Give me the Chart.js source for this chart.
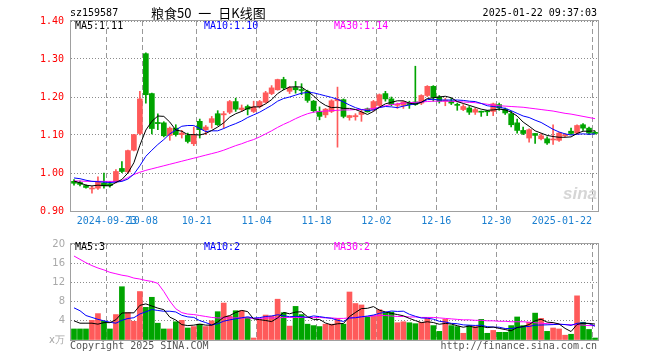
<!DOCTYPE html>
<html>
<head>
<meta charset="utf-8">
<script src="https://cdn.jsdelivr.net/npm/chart.js@4.4.1/dist/chart.umd.min.js"></script>
<style>
body { margin: 0; background: #fff; width: 660px; height: 360px; position: relative; overflow: hidden; font-family: "DejaVu Sans Mono", monospace; }
canvas { position: absolute; left: 0; }
.t { position: absolute; white-space: nowrap; font-size: 10px; line-height: 12px; color: #000; }
</style>
</head>
<body>
<canvas id="kline" width="660" height="232" style="top:0"></canvas>
<canvas id="volume" width="660" height="128" style="top:232px"></canvas>

<div class="t" style="left:70px;top:7px">sz159587</div>
<div class="t" style="left:151px;top:5px;font:13px 'Noto Sans CJK SC';line-height:16px;word-spacing:4px">粮食50 一 日K线图</div>
<div class="t" style="right:63px;top:7px">2025-01-22 09:37:03</div>

<div class="t" style="left:75px;top:20px">MA5:1.11</div>
<div class="t" style="left:204px;top:20px;color:#0000ff">MA10:1.10</div>
<div class="t" style="left:334px;top:20px;color:#ff00ff">MA30:1.14</div>

<div class="t" style="left:75px;top:241px">MA5:3</div>
<div class="t" style="left:204px;top:241px;color:#0000ff">MA10:2</div>
<div class="t" style="left:334px;top:241px;color:#ff00ff">MA30:2</div>

<div class="t" style="left:563px;top:184px;font:italic bold 17px 'Liberation Sans';color:#d6d6d6">sina</div>

<div class="t" style="left:70px;top:340px;color:#555">Copyright 2025 SINA.COM</div>
<div class="t" style="right:63px;top:340px;color:#555">http://finance.sina.com.cn</div>

<script>
const dates = [
  '2024-09-11','2024-09-12','2024-09-13','2024-09-18','2024-09-19','2024-09-20','2024-09-23','2024-09-24','2024-09-25','2024-09-26','2024-09-27','2024-09-30',
  '2024-10-08','2024-10-09','2024-10-10','2024-10-11','2024-10-14','2024-10-15','2024-10-16','2024-10-17','2024-10-18','2024-10-21','2024-10-22','2024-10-23','2024-10-24','2024-10-25','2024-10-28','2024-10-29','2024-10-30','2024-10-31',
  '2024-11-01','2024-11-04','2024-11-05','2024-11-06','2024-11-07','2024-11-08','2024-11-11','2024-11-12','2024-11-13','2024-11-14','2024-11-15','2024-11-18','2024-11-19','2024-11-20','2024-11-21','2024-11-22','2024-11-25','2024-11-26','2024-11-27','2024-11-28','2024-11-29',
  '2024-12-02','2024-12-03','2024-12-04','2024-12-05','2024-12-06','2024-12-09','2024-12-10','2024-12-11','2024-12-12','2024-12-13','2024-12-16','2024-12-17','2024-12-18','2024-12-19','2024-12-20','2024-12-23','2024-12-24','2024-12-25','2024-12-26','2024-12-27','2024-12-30','2024-12-31',
  '2025-01-02','2025-01-03','2025-01-06','2025-01-07','2025-01-08','2025-01-09','2025-01-10','2025-01-13','2025-01-14','2025-01-15','2025-01-16','2025-01-17','2025-01-20','2025-01-21','2025-01-22'
];

const open = [
  0.978,0.975,0.967,0.958,0.960,0.974,0.972,0.977,1.012,1.003,1.060,1.104,
  1.314,1.209,1.133,1.132,1.099,1.118,1.101,1.099,1.077,1.136,1.114,1.133,1.156,1.153,1.160,1.188,1.167,1.175,
  1.162,1.175,1.186,1.209,1.219,1.246,1.215,1.225,1.219,1.215,1.189,1.162,1.153,1.162,1.190,1.193,1.146,1.148,1.154,1.169,1.167,
  1.178,1.209,1.195,1.178,1.178,1.184,1.187,1.184,1.204,1.228,1.200,1.189,1.189,1.180,1.167,1.171,1.160,1.162,1.163,1.162,1.180,1.168,
  1.156,1.132,1.112,1.092,1.104,1.090,1.090,1.087,1.086,1.098,1.110,1.105,1.127,1.118,1.107
];
const high = [
  0.983,0.979,0.969,0.965,0.990,1.000,0.978,1.009,1.030,1.060,1.102,1.215,
  1.316,1.210,1.156,1.135,1.121,1.127,1.112,1.105,1.121,1.142,1.125,1.149,1.164,1.162,1.191,1.197,1.179,1.179,
  1.189,1.191,1.215,1.230,1.247,1.252,1.228,1.241,1.235,1.218,1.191,1.174,1.170,1.193,1.226,1.195,1.152,1.156,1.165,1.171,1.191,
  1.208,1.215,1.200,1.184,1.189,1.189,1.281,1.206,1.230,1.230,1.204,1.197,1.197,1.184,1.180,1.175,1.171,1.163,1.165,1.184,1.184,1.171,
  1.162,1.142,1.121,1.116,1.104,1.104,1.095,1.127,1.107,1.104,1.118,1.127,1.130,1.121,1.110
];
const low = [
  0.968,0.966,0.960,0.947,0.957,0.960,0.963,0.974,1.001,1.001,1.058,1.100,
  1.184,1.103,1.114,1.095,1.086,1.097,1.092,1.079,1.072,1.092,1.101,1.118,1.125,1.118,1.156,1.162,1.162,1.153,
  1.159,1.171,1.184,1.206,1.218,1.219,1.209,1.210,1.206,1.186,1.160,1.140,1.146,1.159,1.068,1.145,1.139,1.139,1.136,1.160,1.163,
  1.175,1.189,1.177,1.170,1.170,1.170,1.178,1.180,1.201,1.189,1.184,1.177,1.180,1.165,1.164,1.154,1.154,1.149,1.151,1.151,1.165,1.154,
  1.121,1.105,1.101,1.081,1.078,1.087,1.075,1.075,1.083,1.095,1.101,1.103,1.112,1.101,1.102
];
const close = [
  0.973,0.970,0.962,0.960,0.976,0.966,0.967,1.004,1.004,1.059,1.101,1.195,
  1.206,1.117,1.130,1.098,1.118,1.101,1.105,1.083,1.099,1.114,1.121,1.143,1.127,1.156,1.188,1.168,1.171,1.168,
  1.174,1.188,1.211,1.224,1.246,1.224,1.224,1.219,1.217,1.191,1.164,1.149,1.168,1.190,1.194,1.149,1.151,1.151,1.160,1.161,1.188,
  1.206,1.195,1.180,1.180,1.187,1.180,1.180,1.204,1.228,1.200,1.189,1.191,1.184,1.178,1.175,1.160,1.167,1.160,1.161,1.182,1.171,1.158,
  1.127,1.112,1.104,1.114,1.099,1.098,1.079,1.088,1.105,1.100,1.104,1.125,1.118,1.105,1.104
];

const ma5 = [
  0.979,0.974,0.968,0.966,0.968,0.967,0.966,0.975,0.983,1.000,
  1.027,1.073,1.113,1.136,1.150,1.149,1.134,1.113,1.110,1.101,
  1.101,1.100,1.104,1.112,1.121,1.132,1.147,1.156,1.162,1.170,
  1.174,1.174,1.182,1.193,1.209,1.219,1.226,1.227,1.226,1.215,
  1.203,1.188,1.178,1.172,1.173,1.170,1.170,1.167,1.161,1.154,
  1.162,1.173,1.182,1.186,1.190,1.190,1.184,1.181,1.186,1.196,
  1.198,1.200,1.202,1.198,1.188,1.183,1.178,1.173,1.168,1.165,
  1.166,1.168,1.166,1.160,1.150,1.134,1.123,1.111,1.105,1.099,
  1.096,1.094,1.094,1.095,1.104,1.110,1.110,1.111
];
const ma10 = [
  0.987,0.985,0.981,0.978,0.977,0.976,0.975,0.976,0.978,0.984,
  0.997,1.019,1.044,1.060,1.075,1.088,1.103,1.113,1.123,1.125,
  1.125,1.117,1.109,1.111,1.111,1.117,1.124,1.130,1.137,1.146,
  1.153,1.160,1.169,1.178,1.189,1.196,1.200,1.205,1.210,1.212,
  1.211,1.207,1.203,1.199,1.194,1.187,1.179,1.172,1.167,1.164,
  1.166,1.172,1.175,1.174,1.172,1.176,1.179,1.182,1.186,1.193,
  1.194,1.192,1.192,1.192,1.192,1.191,1.189,1.188,1.183,1.177,
  1.175,1.173,1.170,1.164,1.157,1.150,1.146,1.139,1.133,1.124,
  1.115,1.108,1.103,1.100,1.102,1.103,1.102,1.103
];
const ma30 = [
  0.979,0.979,0.978,0.978,0.978,0.978,0.978,0.978,0.980,0.988,
  0.996,1.002,1.007,1.011,1.015,1.019,1.023,1.027,1.031,1.035,
  1.039,1.043,1.047,1.051,1.055,1.060,1.066,1.072,1.077,1.083,
  1.088,1.095,1.103,1.111,1.120,1.128,1.135,1.143,1.150,1.156,
  1.160,1.162,1.163,1.164,1.165,1.166,1.166,1.167,1.167,1.168,
  1.170,1.173,1.177,1.180,1.182,1.184,1.185,1.186,1.187,1.188,
  1.189,1.189,1.189,1.189,1.188,1.187,1.186,1.185,1.183,1.181,
  1.179,1.177,1.176,1.175,1.174,1.173,1.171,1.169,1.167,1.165,
  1.163,1.160,1.157,1.155,1.152,1.149,1.146,1.143
];

// volume, in 10k
const vol = [
  2.3,2.3,2.3,4.1,5.5,3.9,2.3,5.3,11.1,5.7,
  3.9,10.1,6.8,8.9,3.5,2.3,2.3,3.8,4.1,2.5,
  2.8,3.3,2.8,4.0,5.9,7.7,5.0,6.1,6.1,4.7,
  0,4.3,5.2,5.0,8.5,5.7,2.9,7.0,5.3,3.3,
  3.0,2.8,3.3,3.3,4.5,3.3,10.0,7.6,7.3,4.8,
  5.1,6.3,5.7,5.8,3.6,3.8,3.6,3.4,3.7,4.5,
  3.0,1.8,4.3,3.0,2.8,1.4,3.0,2.8,4.3,1.4,
  2.0,1.6,1.6,3.0,4.8,3.0,3.7,5.6,4.5,1.8,
  2.5,2.3,1.0,1.2,9.2,3.7,2.2,0.3
];
const vma5 = [
  4.0,3.5,3.5,3.5,3.30,3.62,3.62,4.22,5.62,5.66,
  5.66,7.22,7.52,7.08,6.64,6.32,4.76,4.16,3.20,3.00,
  3.10,3.30,3.10,3.08,3.76,4.74,5.08,5.74,6.16,5.92,
  4.38,4.24,4.06,3.84,4.60,5.74,5.46,5.82,5.88,4.84,
  4.30,4.28,3.54,3.14,3.38,3.44,4.88,5.74,6.54,6.60,
  6.96,6.22,5.84,5.54,5.30,5.04,4.50,4.04,3.62,3.80,
  3.64,3.28,3.46,3.32,2.98,2.66,2.90,2.60,2.86,2.58,
  2.70,2.42,2.18,1.92,2.60,2.80,3.22,4.02,4.32,3.72,
  3.62,3.34,2.42,1.76,3.24,3.48,3.46,3.32
];
const vma10 = [
  6.7,6.1,5.1,4.7,4.3,4.0,3.7,3.5,4.1,4.48,
  4.64,5.42,5.87,6.35,6.15,5.99,5.99,5.84,5.14,4.82,
  4.71,4.03,3.63,3.14,3.38,3.92,4.19,4.42,4.62,4.84,
  4.56,4.66,4.90,5.00,5.26,5.06,4.85,4.94,4.86,4.72,
  5.02,4.87,4.68,4.51,4.11,3.87,4.58,4.64,4.84,4.99,
  5.20,5.55,5.79,6.04,5.95,6.00,5.36,4.94,4.58,4.55,
  4.34,3.89,3.75,3.47,3.39,3.15,3.09,3.03,3.09,2.78,
  2.68,2.66,2.39,2.39,2.59,2.75,2.82,3.10,3.12,3.16,
  3.21,3.28,3.22,3.04,3.48,3.55,3.40,2.87
];
const vma30 = [
  17.5,16.8,16.1,15.5,15.0,14.6,14.1,13.8,13.5,13.3,
  12.9,12.7,12.4,12.2,11.8,10.1,8.1,6.5,5.7,5.4,
  5.3,5.1,4.9,4.7,4.6,4.6,4.6,4.6,4.6,4.6,
  4.5,4.5,4.6,4.6,4.6,4.7,4.7,4.7,4.7,4.7,
  4.7,4.7,4.6,4.6,4.5,4.5,4.6,4.7,4.8,4.9,
  5.0,5.1,5.1,5.0,4.9,4.9,4.8,4.8,4.7,4.7,
  4.7,4.6,4.5,4.4,4.3,4.2,4.2,4.1,4.1,4.0,
  4.0,3.9,3.9,3.8,3.8,3.8,3.7,3.6,3.5,3.4,
  3.3,3.3,3.2,3.2,3.2,3.1,3.0,3.0
];

const tickDays = ['2024-09-23','2024-10-08','2024-10-21','2024-11-04','2024-11-18','2024-12-02','2024-12-16','2024-12-30','2025-01-22'];
const tickLabels = ['2024-09-23','10-08','10-21','11-04','11-18','12-02','12-16','12-30','2025-01-22'];
const priceTicks = [0.9, 1.0, 1.1, 1.2, 1.3, 1.4];
const volTicks = [0, 4, 8, 12, 16, 20];

const UP = '#ff5a5a', DOWN = '#00a400';
const colors = close.map((c, i) => c >= open[i] ? UP : DOWN);
const tickIdx = tickDays.map(d => dates.indexOf(d));
const MONO = '"DejaVu Sans Mono", monospace';

// frame + date labels
const decor = {
    id: 'decor',
    afterDraw(chart) {
        const { ctx, chartArea: a } = chart;
        ctx.save();
        ctx.strokeStyle = '#a0a0a0';
        ctx.lineWidth = 1;
        ctx.strokeRect(Math.round(a.left) - 0.5, Math.round(a.top) - 0.5, Math.round(a.right - a.left) + 1, Math.round(a.bottom - a.top) + 1);

        if (chart.canvas.id === 'kline') {
            const x = chart.scales.x;
            const step = x.getPixelForValue(1) - x.getPixelForValue(0);
            ctx.font = '10px ' + MONO;
            ctx.fillStyle = '#1a7fd0';
            ctx.textAlign = 'center';
            ctx.textBaseline = 'middle';
            tickIdx.forEach((idx, k) => {
                const w = ctx.measureText(tickLabels[k]).width;
                let px = x.getPixelForValue(idx) - step / 2;
                px = Math.min(px, a.right - 6 - w / 2);
                ctx.fillText(tickLabels[k], px, a.bottom + 10);
            });
        }
        ctx.restore();
    }
};

// dashed vertical grid only at the labelled dates, on the left edge of that day
function xScale(h) {
    return {
        offset: true,
        ticks: { display: false, autoSkip: false },
        grid: {
            offset: true,
            drawTicks: false,
            lineWidth: 1,
            color: c => tickIdx.includes(c.index) ? '#999999' : 'rgba(255,255,255,0)'
        },
        border: { display: false, dash: [5, 3] },
        afterFit: s => { s.height = h; }
    };
}

function yGrid() {
    return { drawTicks: false, lineWidth: 1, color: '#8c8c8c' };
}

function lineDs(data, color) {
    return { type: 'line', data, borderColor: color, borderWidth: 1, pointRadius: 0, fill: false, tension: 0, order: 0 };
}

new Chart(document.getElementById('kline'), {
    type: 'bar',
    data: {
        labels: dates,
        datasets: [
            lineDs(ma5, '#000000'),
            lineDs(ma10, '#0000ff'),
            lineDs(ma30, '#ff00ff'),
            { data: open.map((o, i) => [o, close[i]]), backgroundColor: colors, barThickness: 5, minBarLength: 1, grouped: false, order: 1 },
            { data: low.map((l, i) => [l, high[i]]), backgroundColor: colors, barThickness: 1, grouped: false, order: 2 }
        ]
    },
    options: {
        responsive: false,
        animation: false,
        layout: { padding: { left: 0, right: 62, top: 21, bottom: 0 } },
        plugins: { legend: { display: false }, tooltip: { enabled: false } },
        scales: {
            x: xScale(21),
            y: {
                min: 0.9, max: 1.4,
                afterBuildTicks: s => { s.ticks = priceTicks.map(v => ({ value: v })); },
                ticks: { color: '#ff0000', padding: 7, font: { family: MONO, size: 10 }, callback: v => v.toFixed(2) },
                grid: yGrid(),
                border: { display: false, dash: [1, 2] },
                afterFit: s => { s.width = 71; }
            }
        }
    },
    plugins: [decor]
});

new Chart(document.getElementById('volume'), {
    type: 'bar',
    data: {
        labels: dates,
        datasets: [
            lineDs(vma5, '#000000'),
            lineDs(vma10, '#0000ff'),
            lineDs(vma30, '#ff00ff'),
            { data: vol, backgroundColor: colors, barThickness: 5, minBarLength: 2, grouped: false, clip: false, order: 1 }
        ]
    },
    options: {
        responsive: false,
        animation: false,
        layout: { padding: { left: 0, right: 62, top: 8, bottom: 0 } },
        plugins: { legend: { display: false }, tooltip: { enabled: false } },
        scales: {
            x: xScale(20),
            y: {
                min: 0, max: 20,
                afterBuildTicks: s => { s.ticks = volTicks.map(v => ({ value: v })); },
                ticks: { color: '#a8a8a8', padding: 6, font: { family: '"DejaVu Sans", sans-serif', size: 10 }, callback: v => v === 0 ? 'x万' : String(v) },
                grid: yGrid(),
                border: { display: false, dash: [1, 2] },
                afterFit: s => { s.width = 71; }
            }
        }
    },
    plugins: [decor]
});
</script>
</body>
</html>
